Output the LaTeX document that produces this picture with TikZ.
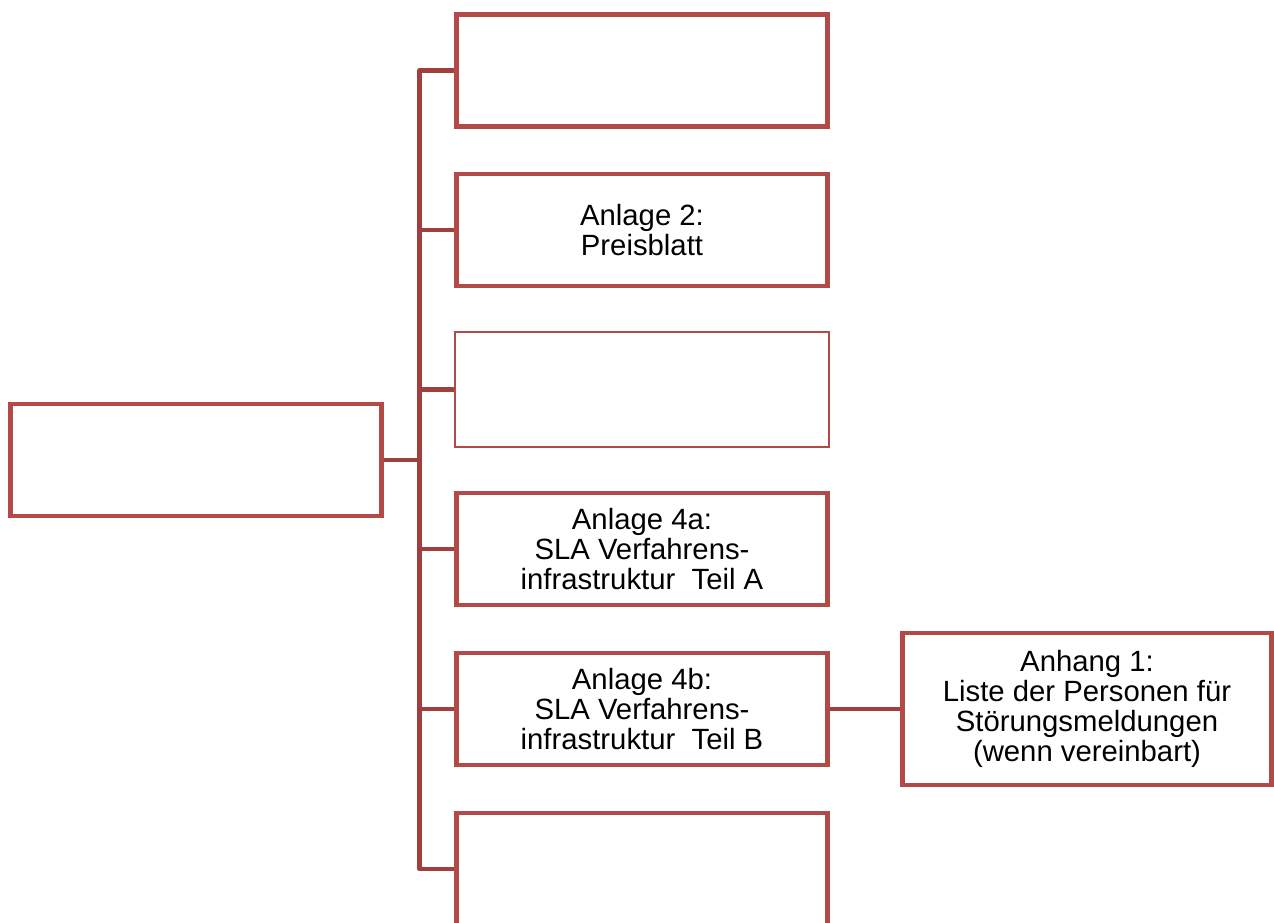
\documentclass[tikz,border=0pt]{standalone}
\usepackage{fontspec}
\setmainfont{Liberation Sans}
\definecolor{boxred}{RGB}{180,74,71}
\definecolor{linered}{RGB}{160,63,62}
\begin{document}
\begin{tikzpicture}[x=1pt,y=-1pt,
  box/.style={draw=boxred, line width=4.5pt, fill=white, rectangle, inner sep=0pt,
    minimum width=371pt, minimum height=112pt, align=center,
    font=\fontsize{29.3}{30}\selectfont, text=black},
  thinbox/.style={box, line width=1.8pt, minimum width=374pt, minimum height=115pt},
  conn/.style={draw=linered, line width=4.5pt, line join=round}]
\useasboundingbox (0,0) rectangle (1274,923);
\clip (0,0) rectangle (1274,923);
\node[box] (root) at (196,460) {};
\node[box] (c1) at (642,70.5) {};
\node[box] (c2) at (642,230) {Anlage 2:\\Preisblatt};
\node[thinbox] (c3) at (642,389.5) {};
\node[box] (c4) at (642,549) {Anlage 4a:\\SLA Verfahrens-\\infrastruktur~ Teil A};
\node[box] (c5) at (642,709) {Anlage 4b:\\SLA Verfahrens-\\infrastruktur~ Teil B};
\node[box] (c6) at (642,869) {};
\node[box, minimum width=369pt, minimum height=152pt] (a1) at (1087,709) {Anhang 1:\\Liste der Personen für\\Störungsmeldungen\\(wenn vereinbart)};
\coordinate (sp) at (419.5,460);
\path[conn] (root.east) -- (sp);
\path[conn] (c1.west) -| (sp) |- (c6.west);
\path[conn] (sp |- c2.west) -- (c2.west);
\path[conn] (sp |- c3.west) -- (c3.west);
\path[conn] (sp |- c4.west) -- (c4.west);
\path[conn] (sp |- c5.west) -- (c5.west);
\path[conn] (c5.east) -- (a1.west);
\end{tikzpicture}
\end{document}
